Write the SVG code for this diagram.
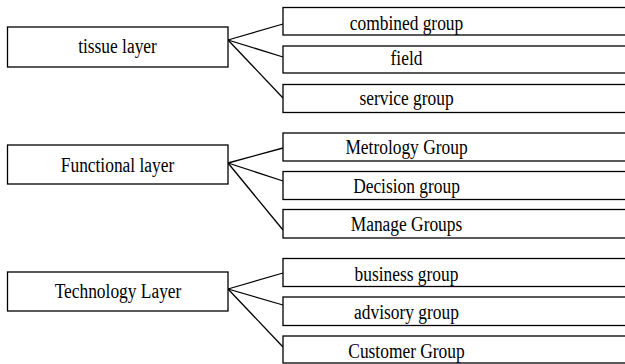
<svg xmlns="http://www.w3.org/2000/svg" width="625" height="364" viewBox="0 0 625 364">
<style>
rect{fill:#fff;stroke:#000;stroke-width:1.3}
text{font-family:"Liberation Serif","Times New Roman",serif;font-size:20px;fill:#000;text-anchor:middle}
.c line{stroke:#000;stroke-width:1.3}
</style>
<rect x="0" y="0" width="625" height="364" style="stroke:none"/>
<g class="c" id="connectors">
<line x1="228" y1="40" x2="283" y2="24"/>
<line x1="228" y1="40" x2="283" y2="57"/>
<line x1="228" y1="40" x2="283" y2="98"/>
<line x1="228" y1="163" x2="283" y2="148"/>
<line x1="228" y1="163" x2="283" y2="181"/>
<line x1="228" y1="163" x2="283" y2="230"/>
<line x1="228" y1="289" x2="283" y2="273"/>
<line x1="228" y1="289" x2="283" y2="305"/>
<line x1="228" y1="289" x2="283" y2="347"/>
</g>
<g id="tissue"><rect x="7.5" y="27" width="220.5" height="40"/><text transform="translate(117.5 52.5) scale(0.87 1)">tissue layer</text></g>
<g id="combined"><rect x="283" y="7.5" width="360" height="27.5"/><text transform="translate(406.5 29.5) scale(0.87 1)">combined group</text></g>
<g id="field"><rect x="283" y="46" width="360" height="27"/><text transform="translate(406.5 65) scale(0.87 1)">field</text></g>
<g id="service"><rect x="283" y="84.5" width="360" height="28"/><text transform="translate(406.5 105) scale(0.87 1)">service group</text></g>
<g id="functional"><rect x="7.5" y="145" width="220.5" height="39"/><text transform="translate(117.5 171.5) scale(0.87 1)">Functional layer</text></g>
<g id="metrology"><rect x="283" y="133" width="360" height="28"/><text transform="translate(406.5 153.5) scale(0.87 1)">Metrology Group</text></g>
<g id="decision"><rect x="283" y="171.5" width="360" height="28"/><text transform="translate(406.5 192.5) scale(0.87 1)">Decision group</text></g>
<g id="manage"><rect x="283" y="209.5" width="360" height="28.5"/><text transform="translate(406.5 231) scale(0.87 1)">Manage Groups</text></g>
<g id="technology"><rect x="7.5" y="272" width="220.5" height="39"/><text transform="translate(118 298) scale(0.87 1)">Technology Layer</text></g>
<g id="business"><rect x="283" y="258.5" width="360" height="28"/><text transform="translate(406.5 280.5) scale(0.87 1)">business group</text></g>
<g id="advisory"><rect x="283" y="297" width="360" height="28.5"/><text transform="translate(406.5 319) scale(0.87 1)">advisory group</text></g>
<g id="customer"><rect x="283" y="336" width="360" height="27"/><text transform="translate(406.5 357.5) scale(0.87 1)">Customer Group</text></g>
</svg>
